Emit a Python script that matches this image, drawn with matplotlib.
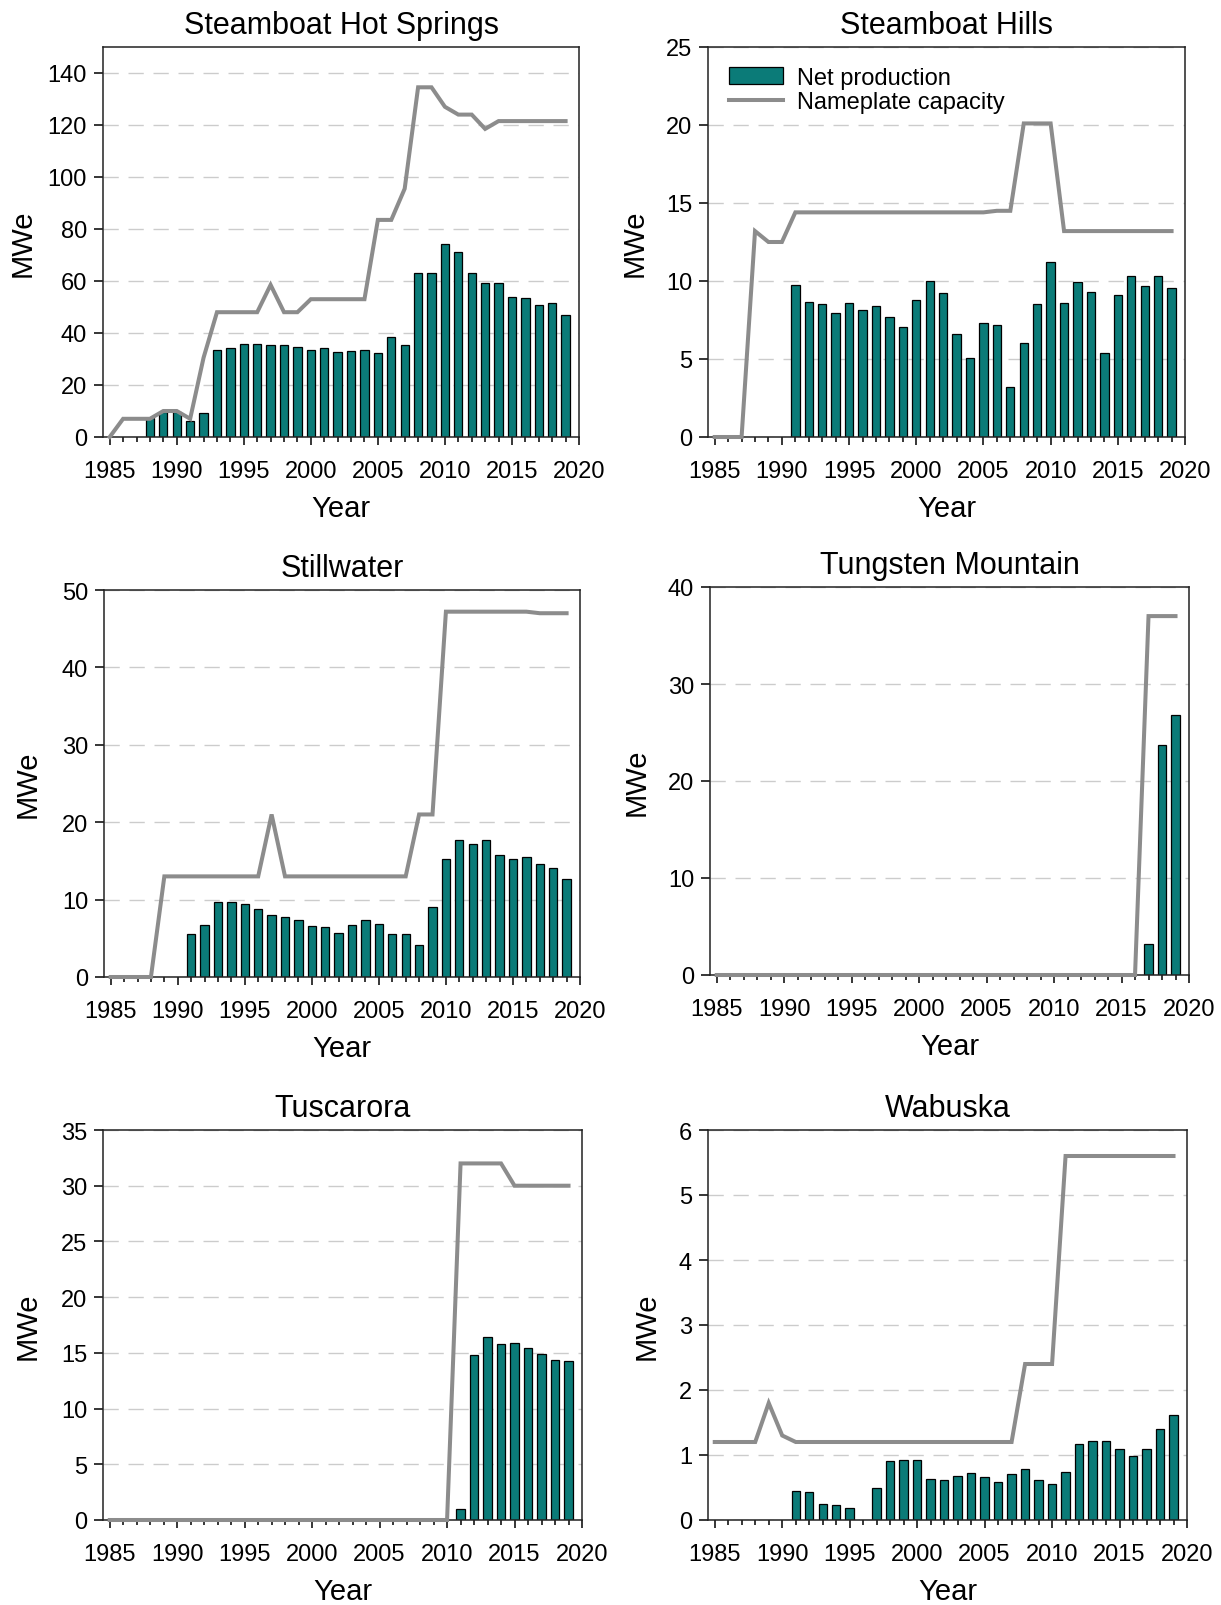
import numpy as np
import matplotlib
matplotlib.use("Agg")
import matplotlib.pyplot as plt
from matplotlib.ticker import MultipleLocator

plt.rcParams['font.family'] = ['Liberation Sans', 'DejaVu Sans']

years = list(range(1985, 2020))

# Steamboat Hot Springs
shs_cap = [0, 7, 7, 7, 10, 10, 7, 30.5, 48, 48, 48, 48, 58.5, 48, 48, 53, 53, 53, 53, 53,
           83.5, 83.5, 95.5, 134.5, 134.5, 127, 124, 124, 118.5, 121.5, 121.5, 121.5, 121.5, 121.5, 121.5]
shs_net = [0, 0, 0, 7.3, 9.8, 9.6, 6.2, 9.1, 33.6, 34.3, 35.8, 35.6, 35.2, 35.4, 34.5, 33.6, 34.3, 32.6,
           33.0, 33.4, 32.4, 38.3, 35.3, 62.9, 63.2, 74.2, 71.3, 62.9, 59.1, 59.1, 53.9, 53.4, 50.9, 51.6, 47.1]

# Steamboat Hills
sh_cap = [0, 0, 0, 13.2, 12.5, 12.5, 14.4, 14.4, 14.4, 14.4, 14.4, 14.4, 14.4, 14.4, 14.4, 14.4, 14.4,
          14.4, 14.4, 14.4, 14.4, 14.5, 14.5, 20.1, 20.1, 20.1, 13.2, 13.2, 13.2, 13.2, 13.2, 13.2, 13.2, 13.2, 13.2]
sh_net = [0, 0, 0, 0, 0, 0, 9.72, 8.65, 8.5, 7.95, 8.6, 8.16, 8.38, 7.7, 7.03, 8.76, 10.0, 9.23, 6.62,
          5.09, 7.33, 7.2, 3.18, 6.05, 8.5, 11.2, 8.61, 9.96, 9.27, 5.36, 9.08, 10.3, 9.68, 10.3, 9.57]

# Stillwater
sw_cap = [0, 0, 0, 0, 13, 13, 13, 13, 13, 13, 13, 13, 21, 13, 13, 13, 13, 13, 13, 13, 13, 13, 13,
          21, 21, 47.2, 47.2, 47.2, 47.2, 47.2, 47.2, 47.2, 47.0, 47.0, 47.0]
sw_net = [0, 0, 0, 0, 0, 0, 5.55, 6.7, 9.72, 9.72, 9.38, 8.82, 8.05, 7.7, 7.36, 6.58, 6.41, 5.72, 6.76,
          7.36, 6.84, 5.5, 5.5, 4.09, 9.0, 15.19, 17.64, 17.2, 17.64, 15.75, 15.19, 15.45, 14.63, 14.11, 12.6]

# Tungsten Mountain
tm_cap = [0] * 32 + [37, 37, 37]
tm_net = [0] * 32 + [3.19, 23.7, 26.83]

# Tuscarora
tu_cap = [0] * 26 + [32, 32, 32, 32, 30, 30, 30, 30, 30]
tu_net = [0] * 26 + [0.96, 14.84, 16.4, 15.83, 15.9, 15.41, 14.94, 14.36, 14.27]

# Wabuska
wa_cap = [1.2, 1.2, 1.2, 1.2, 1.8, 1.3, 1.2, 1.2, 1.2, 1.2, 1.2, 1.2, 1.2, 1.2, 1.2, 1.2, 1.2, 1.2,
          1.2, 1.2, 1.2, 1.2, 1.2, 2.4, 2.4, 2.4, 5.6, 5.6, 5.6, 5.6, 5.6, 5.6, 5.6, 5.6, 5.6]
wa_net = [0, 0, 0, 0, 0, 0, 0.44, 0.43, 0.245, 0.23, 0.186, 0, 0.5, 0.91, 0.93, 0.93, 0.63, 0.61, 0.67,
          0.72, 0.655, 0.58, 0.705, 0.79, 0.62, 0.55, 0.74, 1.17, 1.21, 1.21, 1.1, 0.99, 1.1, 1.4, 1.61]

titles = ["Steamboat Hot Springs", "Steamboat Hills", "Stillwater",
          "Tungsten Mountain", "Tuscarora", "Wabuska"]
caps = [shs_cap, sh_cap, sw_cap, tm_cap, tu_cap, wa_cap]
nets = [shs_net, sh_net, sw_net, tm_net, tu_net, wa_net]
ymax = [150, 25, 50, 40, 35, 6]
ystep = [20, 5, 10, 10, 5, 1]

# panel boxes in pixels (left, right, top, bottom)
boxes = [(103, 579, 48, 438), (708, 1185, 48, 438),
         (104, 580, 591, 978), (710, 1189, 588, 976),
         (103, 582, 1131, 1521), (708, 1187, 1131, 1521)]
ylab_x = [-0.139, -0.125, -0.130, -0.124, -0.129, -0.099]

W, H = 1221, 1606
fig = plt.figure(figsize=(W / 100, H / 100), dpi=100)

bar_color = '#0b7b78'
line_color = '#8c8c8c'

for i in range(6):
    l, r, t, b = boxes[i]
    ax = fig.add_axes([l / W, 1 - b / H, (r - l) / W, (b - t) / H])
    yrs = np.array(years)
    net = np.array(nets[i], dtype=float)
    mask = net > 0
    bars = ax.bar(yrs[mask], net[mask], width=0.62, color=bar_color, edgecolor='black',
                  linewidth=0.9, zorder=2, label='Net production')
    line, = ax.plot(years, caps[i], color=line_color, linewidth=2.9, zorder=3,
                    solid_joinstyle='miter', label='Nameplate capacity', clip_on=False)

    ax.set_xlim(1984.5, 2020)
    ax.set_ylim(0, ymax[i])
    ax.xaxis.set_major_locator(MultipleLocator(5))
    ax.xaxis.set_minor_locator(MultipleLocator(1))
    ax.set_yticks(np.arange(0, ymax[i] + 0.001, ystep[i]))
    ax.tick_params(axis='x', which='major', length=5.5, width=1.1, labelsize=17, pad=11,
                   top=False, direction='out')
    ax.tick_params(axis='x', which='minor', length=3.6, width=1.1, top=False, direction='out')
    ax.tick_params(axis='y', which='major', length=6.5, width=1.1, labelsize=17, pad=5,
                   right=False, direction='out')
    ax.grid(axis='y', color='#cccccc', linestyle=(0, (11, 7)), linewidth=1.0)
    ax.set_axisbelow(True)
    for s in ax.spines.values():
        s.set_linewidth(1.1)
        s.set_color('#222222')

    ax.set_title(titles[i], fontsize=22, pad=10)
    ax.set_xlabel('Year', fontsize=21, labelpad=9)
    ax.set_ylabel('MWe', fontsize=21)
    ax.yaxis.set_label_coords(ylab_x[i], 0.5)

    if i == 1:
        ax.legend([bars, line], ['Net production', 'Nameplate capacity'],
                  loc='upper left', bbox_to_anchor=(0.044, 0.95), frameon=False,
                  fontsize=17, borderpad=0, borderaxespad=0, handlelength=2.3,
                  handleheight=0.72, handletextpad=0.6, labelspacing=0.12)

fig.savefig('out.png', dpi=100)
